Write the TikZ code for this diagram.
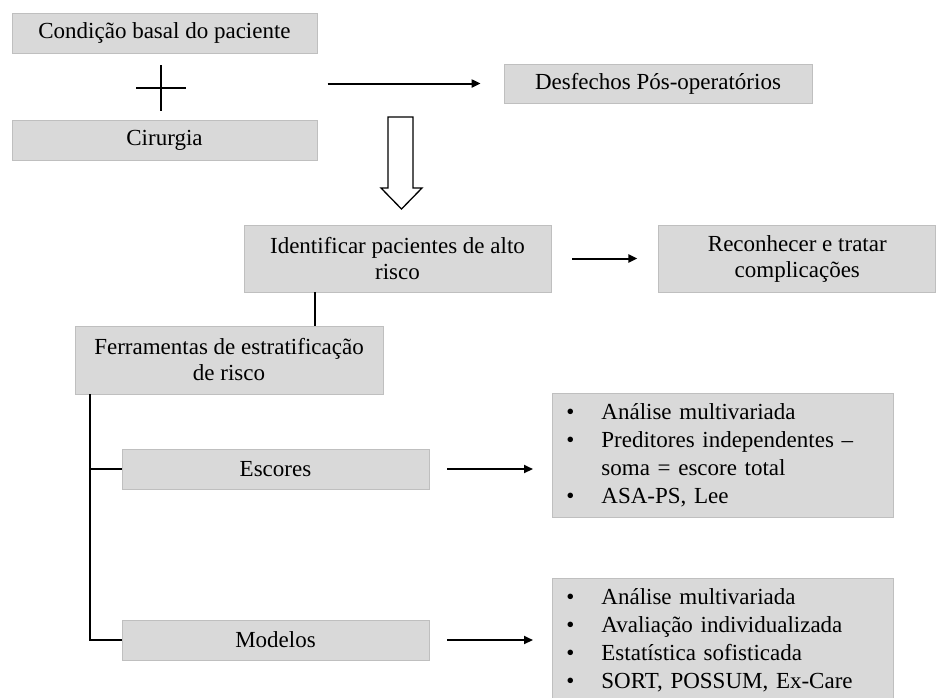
\documentclass[tikz,border=0pt]{standalone}
\usepackage{fontspec}
\setmainfont{Liberation Serif}
\usepackage{tikz}
\usetikzlibrary{arrows.meta,positioning,calc}
\definecolor{boxgray}{HTML}{D9D9D9}
\definecolor{edgegray}{HTML}{BFBFBF}

\begin{document}
\begin{tikzpicture}[
    x=1pt, y=-1pt,
    box/.style={draw=edgegray, fill=boxgray, line width=0.8pt, minimum width=307, minimum height=40, inner sep=0pt, align=center, font=\fontsize{23}{26}\selectfont},
    listbox/.style={box, anchor=north west, minimum width=341, minimum height=124, text width=313, align=left, font=\fontsize{23}{28}\selectfont},
    link/.style={line width=2pt},
    >={Triangle[length=9pt,width=8pt]}
]
    \useasboundingbox (0,0) rectangle (950,697);

    % Top row
    \node[box, minimum width=305] (basal) at (164.5,33) {Condição basal do paciente};
    \node[box, minimum width=305, below=67pt of basal] (cirurgia) {Cirurgia};
    \node[box, minimum width=308, minimum height=39] (desfechos) at (658,83.5) {Desfechos Pós-operatórios};
    \draw[line width=1.6pt] (136,88) -- (186,88) (161,65) -- (161,111);
    \draw[link, ->] ([xshift=-176]desfechos.west) -- ([xshift=-23]desfechos.west);
    % hollow arrow
    \draw[line width=1.3pt, fill=white] (388,117) -- (413,117) -- (413,188) -- (422,188)
        -- (401.5,209) -- (381,188) -- (388,188) -- cycle;

    % Middle row
    \node[box, minimum height=67] (identificar) at (397.5,258.5) {Identificar pacientes de alto\\risco};
    \node[box, minimum width=277, minimum height=67, right=107pt of identificar] (reconhecer) {Reconhecer e tratar\\complicações};
    \node[box, minimum width=308, minimum height=68] (ferramentas) at (229,360) {Ferramentas de estratificação\\de risco};
    \draw[link, ->] ([xshift=21]identificar.east) -- ([xshift=-21]reconhecer.west);
    \coordinate (tap) at ([xshift=240]ferramentas.north west);
    \draw[link] (tap) -- (tap |- identificar.south);

    % Tools
    \node[box] (escores) at (275.5,469) {Escores};
    \node[box] (modelos) at (275.5,640) {Modelos};
    \node[listbox] (escoreslist) at (552,393) {\begin{tabular}{@{}l@{\hspace{27pt}}l@{}}
        \textbullet & Análise multivariada\\
        \textbullet & Preditores independentes –\\
                    & soma = escore total\\
        \textbullet & ASA-PS, Lee
    \end{tabular}};
    \node[listbox] (modeloslist) at (552,578) {\begin{tabular}{@{}l@{\hspace{27pt}}l@{}}
        \textbullet & Análise multivariada\\
        \textbullet & Avaliação individualizada\\
        \textbullet & Estatística sofisticada\\
        \textbullet & SORT, POSSUM, Ex-Care
    \end{tabular}};

    \coordinate (spine) at ([xshift=15]ferramentas.south west);
    \draw[link] (spine) |- (modelos.west);
    \draw[link] (spine |- escores.west) -- (escores.west);
    \draw[link, ->] ([xshift=18]escores.east) -- ($(escores.east -| escoreslist.west)+(-19,0)$);
    \draw[link, ->] ([xshift=18]modelos.east) -- ($(modelos.east -| modeloslist.west)+(-19,0)$);
\end{tikzpicture}
\end{document}
